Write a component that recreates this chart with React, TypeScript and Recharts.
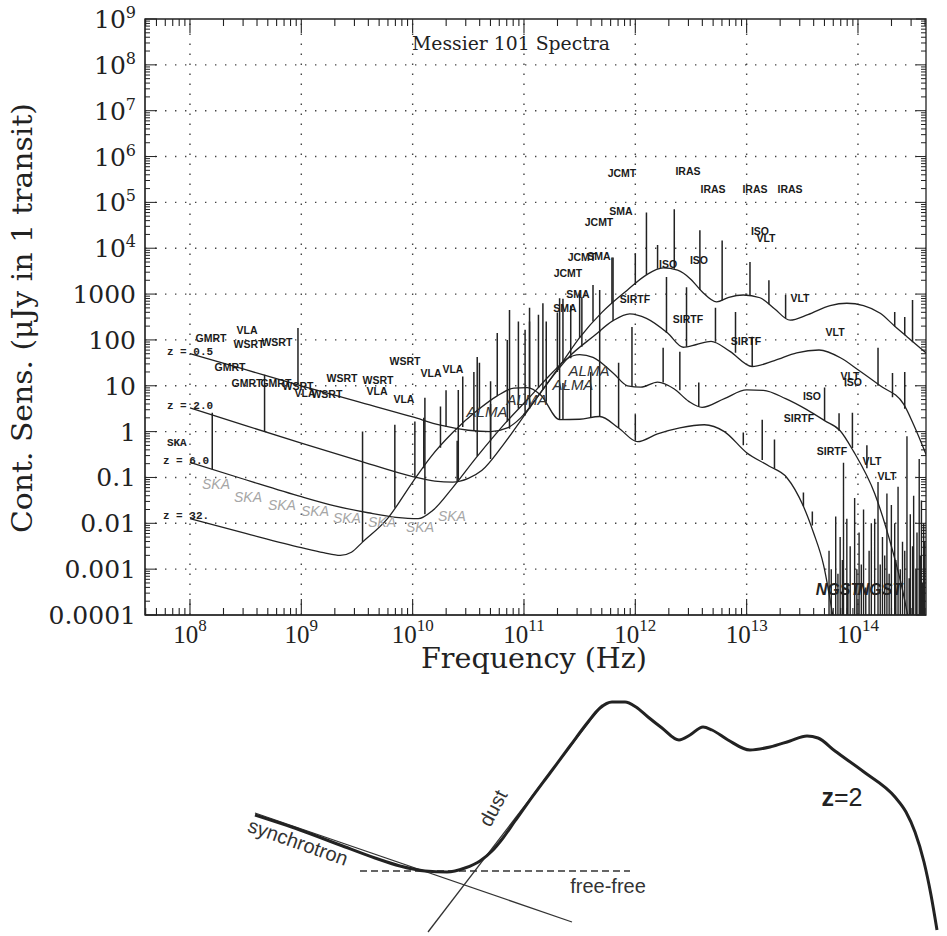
import React from 'react';
import { ComposedChart, Line, Scatter, XAxis, YAxis, ReferenceLine, ReferenceArea } from 'recharts';

// all values are log10(frequency / Hz) and log10(sensitivity / uJy)
const z05Curve: [number, number][] = [
  [8.0, 1.7], [8.5, 1.35], [9.0, 1.0], [9.5, 0.66], [10.0, 0.32], [10.25, 0.14], [10.5, 0.03], [10.7, 0.0],
  [10.85, 0.08], [10.97, 0.3], [11.11, 0.72], [11.34, 1.5], [11.5, 2.05], [11.7, 2.6], [11.93, 3.09], [12.1, 3.42],
  [12.25, 3.57], [12.38, 3.52], [12.5, 3.32], [12.6, 3.05], [12.73, 2.83], [12.84, 2.93], [12.97, 2.98], [13.12, 2.92],
  [13.25, 2.68], [13.39, 2.43], [13.55, 2.55], [13.75, 2.75], [13.9, 2.8], [14.05, 2.75], [14.2, 2.58], [14.33, 2.3],
  [14.44, 2.07], [14.62, 1.7],
];
const z2Curve: [number, number][] = [
  [8.0, 0.52], [8.5, 0.13], [9.0, -0.25], [9.5, -0.62], [10.0, -0.98], [10.2, -1.08], [10.36, -1.1], [10.5, -1.02],
  [10.62, -0.85], [10.81, -0.3], [11.04, 0.48], [11.2, 1.02], [11.4, 1.62], [11.63, 2.09], [11.8, 2.42], [11.95, 2.57],
  [12.1, 2.47], [12.29, 2.15], [12.43, 1.84], [12.55, 1.9], [12.68, 1.97], [12.85, 1.75], [13.05, 1.42], [13.25, 1.55],
  [13.45, 1.72], [13.65, 1.78], [13.85, 1.6], [14.0, 1.35], [14.2, 1.0], [14.41, 0.6], [14.5, 0.15], [14.62, -0.55],
];
const z6Curve: [number, number][] = [
  [8.0, -0.67], [8.5, -1.05], [9.0, -1.42], [9.3, -1.62], [9.6, -1.77], [9.85, -1.87], [10.05, -1.9], [10.18, -1.72],
  [10.36, -1.22], [10.58, -0.54], [10.83, 0.18], [11.05, 0.75], [11.26, 1.3], [11.38, 1.58], [11.5, 1.68], [11.62, 1.62],
  [11.8, 1.28], [11.93, 1.0], [12.05, 0.97], [12.2, 1.08], [12.35, 0.93], [12.48, 0.66], [12.6, 0.53], [12.8, 0.72],
  [13.0, 0.91], [13.15, 0.9], [13.35, 0.72], [13.54, 0.48], [13.7, 0.24], [13.84, 0.02], [13.96, -0.43], [14.15, -1.35],
  [14.3, -2.5], [14.4, -3.45], [14.47, -4.3],
];
const z32Curve: [number, number][] = [
  [8.0, -1.9], [8.5, -2.22], [9.0, -2.53], [9.2, -2.64], [9.35, -2.7], [9.45, -2.63], [9.55, -2.41], [9.77, -1.91],
  [10.0, -1.1], [10.16, -0.56], [10.36, -0.02], [10.59, 0.48], [10.76, 0.78], [10.91, 0.95], [11.03, 0.96], [11.15, 0.8],
  [11.32, 0.26], [11.5, 0.27], [11.68, 0.33], [11.85, 0.08], [12.02, -0.22], [12.2, -0.05], [12.4, 0.08], [12.62, 0.15],
  [12.8, 0.0], [13.0, -0.46], [13.2, -0.75], [13.36, -1.0], [13.51, -1.63], [13.6, -2.2], [13.69, -2.9], [13.78, -4.1],
];

// spectral lines: [log nu, base, tip]
const z05Lines: [number, number, number][] = [
  [8.97, 1.02, 2.26], [10.3, 0.1, 0.9], [10.55, 0.03, 1.3], [10.87, 0.06, 2.65], [11.05, 0.5, 2.4], [11.17, 0.92, 2.8],
  [11.35, 1.5, 2.9], [11.5, 2.05, 3.02], [11.62, 2.4, 3.2], [11.79, 2.8, 3.8], [12.0, 3.2, 3.89], [12.1, 3.42, 4.78],
  [12.2, 3.55, 4.07], [12.35, 3.55, 4.85], [12.58, 3.09, 4.39], [12.78, 2.86, 4.17], [13.03, 2.97, 3.7], [13.2, 2.78, 3.3],
  [13.35, 2.48, 2.98], [14.33, 2.3, 2.61], [14.42, 2.1, 2.5], [14.49, 1.95, 2.87],
];
const z2Lines: [number, number, number][] = [
  [8.67, 0.0, 1.24], [10.02, -0.99, 0.22], [10.4, -1.08, -0.2], [10.7, -0.6, 0.6], [11.01, 0.35, 2.22], [11.3, 1.3, 2.6],
  [11.52, 1.85, 2.93], [11.68, 2.18, 3.09], [11.8, 2.42, 3.8], [12.28, 2.15, 3.37], [12.46, 1.85, 3.15], [12.72, 1.96, 2.7],
  [12.9, 1.72, 2.61], [13.05, 1.42, 2.07], [14.18, 1.0, 1.83], [14.31, 0.75, 1.28], [14.42, 0.5, 1.3],
];
const z6Lines: [number, number, number][] = [
  [8.2, -0.82, 0.41], [10.11, -1.8, 0.74], [10.41, -1.05, 0.91], [10.58, -0.54, 1.63], [10.7, -0.2, 1.1], [10.85, 0.22, 2.0],
  [10.95, 0.5, 2.4], [11.13, 0.95, 2.55], [11.42, 1.6, 2.75], [11.97, 0.98, 2.28], [12.25, 1.07, 1.83], [12.4, 0.9, 1.74],
  [12.57, 0.54, 1.07], [13.7, 0.24, 0.96], [13.83, 0.02, 0.4], [13.95, -0.36, 0.41], [14.08, -0.8, -0.3],
];
const z32Lines: [number, number, number][] = [
  [9.55, -2.41, 0.0], [9.84, -1.66, 0.15], [10.1, -0.8, 0.3], [10.25, -0.35, 0.55], [10.45, 0.1, 1.2], [10.6, 0.5, 1.5],
  [10.76, 0.78, 2.15], [11.05, 0.95, 2.7], [11.2, 0.65, 2.4], [11.32, 0.26, 2.91], [11.35, 0.26, 1.06], [11.6, 0.3, 1.3],
  [11.68, 0.33, 2.2], [11.85, 0.08, 1.5], [12.0, -0.2, 0.37], [12.97, -0.3, -0.02], [13.14, -0.62, 0.26], [13.25, -0.8, -0.17],
  [13.51, -1.63, -1.33], [13.59, -2.05, -1.74],
];
// lines rising from below the frame in the infrared: [log nu, tip]
const irNoise: [number, number][] = [
  [13.74, -2.6], [13.76, -3.0], [13.8, -1.85], [13.82, -3.1], [13.84, -2.3], [13.86, -2.8], [13.87, -0.68], [13.9, -1.9],
  [13.91, -3.3], [13.93, -2.5], [13.97, -1.45], [13.99, -3.0], [14.01, -2.2], [14.03, -2.9], [14.05, -1.7], [14.07, -3.4],
  [14.1, -2.6], [14.12, -2.0], [14.15, -1.9], [14.18, -1.1], [14.2, -2.9], [14.22, -2.3], [14.24, -2.7], [14.26, -1.35],
  [14.28, -3.1], [14.3, -1.6], [14.33, -2.0], [14.34, -2.8], [14.36, -1.2], [14.38, -3.0], [14.4, -2.4], [14.42, -2.6],
  [14.44, -0.1], [14.46, -3.2], [14.47, -1.8], [14.49, -2.5], [14.5, -1.4], [14.52, -3.0], [14.53, -2.2], [14.55, -0.6],
  [14.56, -2.7], [14.57, -1.5], [14.58, -3.3], [14.59, -2.0], [14.6, -2.4],
];

// [text, log nu, log S]
const zLabels: [string, number, number][] = [
  ['z = 0.5', 7.793, 1.73], ['z = 2.0', 7.793, 0.56], ['SKA', 7.793, -0.25], ['z = 6.0', 7.757, -0.64], ['z = 32.', 7.757, -1.84],
];
const instrumentLabels: [string, number, number][] = [
  ['GMRT', 8.189, 2.04], ['VLA', 8.512, 2.22], ['WSRT', 8.53, 1.91], ['WSRT', 8.781, 1.95], ['GMRT', 8.359, 1.41],
  ['GMRT', 8.512, 1.06], ['GMRT', 8.772, 1.06], ['WSRT', 8.97, 1.0], ['VLA', 9.033, 0.84], ['WSRT', 9.23, 0.82],
  ['WSRT', 9.365, 1.17], ['WSRT', 9.689, 1.13], ['VLA', 9.68, 0.89], ['VLA', 9.922, 0.71], ['WSRT', 9.931, 1.54],
  ['VLA', 10.165, 1.28], ['VLA', 10.362, 1.37],
  ['JCMT', 11.88, 5.64], ['IRAS', 12.473, 5.68], ['IRAS', 12.698, 5.29], ['IRAS', 13.075, 5.29], ['IRAS', 13.39, 5.29],
  ['SMA', 11.871, 4.81], ['JCMT', 11.674, 4.57], ['ISO', 13.12, 4.37], ['VLT', 13.174, 4.22], ['JCMT', 11.521, 3.81],
  ['SMA', 11.674, 3.83], ['JCMT', 11.395, 3.46], ['ISO', 12.294, 3.66], ['ISO', 12.572, 3.74], ['SMA', 11.485, 3.0],
  ['SIRTF', 11.997, 2.89], ['SMA', 11.368, 2.7], ['VLT', 13.479, 2.91], ['SIRTF', 12.473, 2.46], ['VLT', 13.794, 2.17],
  ['SIRTF', 12.994, 1.98], ['VLT', 13.928, 1.21], ['ISO', 13.955, 1.08], ['ISO', 13.587, 0.78], ['SIRTF', 13.47, 0.3],
  ['SIRTF', 13.767, -0.42], ['VLT', 14.126, -0.64], ['VLT', 14.26, -0.97],
];
const skaLabels: [string, number, number][] = [
  ['SKA', 8.234, -1.14], ['SKA', 8.521, -1.43], ['SKA', 8.826, -1.6], ['SKA', 9.123, -1.73], ['SKA', 9.41, -1.88],
  ['SKA', 9.725, -1.97], ['SKA', 10.066, -2.08], ['SKA', 10.353, -1.84],
];
const almaLabels: [string, number, number][] = [
  ['ALMA', 10.668, 0.43], ['ALMA', 11.027, 0.69], ['ALMA', 11.44, 1.02], ['ALMA', 11.584, 1.34],
];
const ngstLabels: [string, number, number][] = [['NGST', 13.82, -3.45], ['NGST', 14.198, -3.45]];

const xDecades = [8, 9, 10, 11, 12, 13, 14];
const yDecades = [-4, -3, -2, -1, 0, 1, 2, 3, 4, 5, 6, 7, 8, 9];
const yDecimalText: Record<string, string> = {
  '-4': '0.0001', '-3': '0.001', '-2': '0.01', '-1': '0.1', '0': '1', '1': '10', '2': '100', '3': '1000',
};

// lower schematic: x = horizontal position, y = height above the bottom of the panel
const z2Sketch: [number, number][] = [
  [255, 121], [300, 106], [340, 91], [375, 78], [400, 70], [425, 65], [447, 64], [465, 68], [480, 75], [492, 85],
  [503, 98], [515, 115], [530, 136], [550, 163], [570, 190], [588, 214], [600, 228], [612, 234], [625, 234], [636, 229],
  [648, 219], [662, 208], [679, 196], [690, 201], [703, 209], [712, 206], [728, 196], [750, 186], [770, 189], [790, 195],
  [807, 200], [818, 198], [835, 185], [864, 164], [895, 139], [906, 124], [915, 104], [924, 74], [931, 41], [937, 6],
];
const synchrotronLine: [number, number][] = [[255, 123], [572, 14]];
const dustLine: [number, number][] = [[428, 4], [602, 231]];
const freeFreeLine: [number, number][] = [[360, 65], [630, 65]];
const sketchLabels: { text: string; x: number; y: number; rot: number }[] = [
  { text: 'synchrotron', x: 298, y: 94, rot: 19.5 },
  { text: 'dust', x: 493, y: 128, rot: -62 },
  { text: 'free-free', x: 608, y: 50, rot: 0 },
  { text: 'z=2', x: 842, y: 139, rot: 0 },
];

const X_MIN = 7.596;
const X_MAX = 14.611;
const PLOT_TOP = 19;
const PLOT_BOTTOM = 615;
const PLOT_LEFT = 145;
const PLOT_RIGHT = 926;
const INK = '#222';

const minorSteps = [2, 3, 4, 5, 6, 7, 8, 9];
const xMinor = [7, 8, 9, 10, 11, 12, 13, 14]
  .flatMap((n) => minorSteps.map((k) => n + Math.log10(k)))
  .filter((v) => v > X_MIN && v < X_MAX);
const yMinor = yDecades.slice(0, -1).flatMap((n) => minorSteps.map((k) => n + Math.log10(k)));
const xTicks = [...xDecades, ...xMinor].sort((a, b) => a - b);
const yTicks = [...yDecades, ...yMinor].sort((a, b) => a - b);

const isMajor = (v: number) => Math.abs(v - Math.round(v)) < 1e-6;
const toPoints = (c: [number, number][]) => c.map(([x, y]) => ({ x, y }));
const toSpikes = (s: [number, number, number][]) =>
  s.flatMap(([x, b, t]) => [{ x, y: b }, { x, y: t }, { x, y: null as number | null }]);
const noiseSpikes = irNoise.flatMap(([x, t]) => [{ x, y: -4.5 }, { x, y: t }, { x, y: null as number | null }]);
const toLabels = (l: [string, number, number][], kind: string) => l.map(([text, x, y]) => ({ x, y, text, kind }));

const labelStyle: Record<string, any> = {
  z: { fontFamily: 'Liberation Mono', fontSize: 11, fontWeight: 'bold', fill: INK, textAnchor: 'start' },
  inst: { fontFamily: 'Liberation Sans', fontSize: 10.5, fontWeight: 'bold', fill: '#1a1a1a', textAnchor: 'middle' },
  ska: { fontFamily: 'Liberation Sans', fontSize: 14, fontStyle: 'italic', fill: '#a6a6a6', textAnchor: 'middle' },
  alma: { fontFamily: 'Liberation Sans', fontSize: 15, fontStyle: 'italic', fill: '#333', textAnchor: 'middle' },
  ngst: { fontFamily: 'Liberation Sans', fontSize: 16, fontStyle: 'italic', fontWeight: 'bold', fill: INK, textAnchor: 'middle' },
};

const LabelShape = (p: any) => {
  const d = p.payload;
  const { textAnchor, ...rest } = labelStyle[d.kind];
  return (
    <text x={p.cx} y={p.cy} textAnchor={textAnchor} dominantBaseline="central" {...rest}>
      {d.text}
    </text>
  );
};

const XTick = (p: any) => {
  const { x, payload } = p;
  const v = payload.value;
  const major = isMajor(v);
  return (
    <g>
      <line x1={x} y1={PLOT_BOTTOM} x2={x} y2={PLOT_BOTTOM - (major ? 16 : 7)} stroke={INK} strokeWidth={1.1} />
      <line x1={x} y1={PLOT_TOP} x2={x} y2={PLOT_TOP + (major ? 14 : 7)} stroke={INK} strokeWidth={1.1} />
      {major && (
        <text x={x} y={PLOT_BOTTOM + 28} textAnchor="middle" fontFamily="Liberation Serif" fontSize={25} fill={INK}>
          <tspan>10</tspan>
          <tspan dy={-12} fontSize={17}>{Math.round(v)}</tspan>
        </text>
      )}
    </g>
  );
};

const YTick = (p: any) => {
  const { y, payload } = p;
  const v = payload.value;
  const major = isMajor(v);
  const n = Math.round(v);
  const dec = yDecimalText[String(n)];
  return (
    <g>
      <line x1={PLOT_LEFT} y1={y} x2={PLOT_LEFT + (major ? 12 : 5)} y2={y} stroke={INK} strokeWidth={1} />
      <line x1={PLOT_RIGHT} y1={y} x2={PLOT_RIGHT - (major ? 10 : 5)} y2={y} stroke={INK} strokeWidth={1} />
      {major && (
        <text x={PLOT_LEFT - 9} y={y + 9} textAnchor="end" fontFamily="DejaVu Serif" fontSize={25} fill={INK}>
          {dec ? (
            dec
          ) : (
            <>
              <tspan>10</tspan>
              <tspan dy={-10} fontSize={16}>{n}</tspan>
            </>
          )}
        </text>
      )}
    </g>
  );
};

const SketchLabel = (p: any) => {
  const d = p.payload;
  if (d.text === 'z=2') {
    return (
      <text x={p.cx} y={p.cy} textAnchor="middle" dominantBaseline="central" fontFamily="Liberation Sans" fontSize={25} fill={INK}>
        <tspan fontWeight="bold">z</tspan>
        <tspan>=2</tspan>
      </text>
    );
  }
  return (
    <text
      x={p.cx}
      y={p.cy}
      textAnchor="middle"
      dominantBaseline="central"
      fontFamily="Liberation Sans"
      fontSize={20}
      fill="#333"
      transform={`rotate(${d.rot} ${p.cx} ${p.cy})`}
    >
      {d.text}
    </text>
  );
};

const curves = [z05Curve, z2Curve, z6Curve, z32Curve];
const spikeSets = [z05Lines, z2Lines, z6Lines, z32Lines];

export default function App() {
  const labels = [
    ...toLabels(zLabels, 'z'),
    ...toLabels(instrumentLabels, 'inst'),
    ...toLabels(skaLabels, 'ska'),
    ...toLabels(almaLabels, 'alma'),
    ...toLabels(ngstLabels, 'ngst'),
  ];
  return (
    <div style={{ position: 'absolute', left: 0, top: 0, width: 947, height: 936, background: '#fff' }}>
      <ComposedChart width={947} height={680} margin={{ top: PLOT_TOP, right: 947 - PLOT_RIGHT, left: 45, bottom: 20 }}>
        <XAxis
          type="number"
          dataKey="x"
          domain={[X_MIN, X_MAX]}
          allowDataOverflow
          ticks={xTicks}
          interval={0}
          tickSize={0}
          tickMargin={0}
          tick={<XTick />}
          height={45}
          axisLine={{ stroke: INK }}
        />
        <YAxis
          type="number"
          dataKey="y"
          domain={[-4, 9]}
          allowDataOverflow
          ticks={yTicks}
          interval={0}
          tickSize={0}
          tickMargin={0}
          tick={<YTick />}
          width={100}
          axisLine={{ stroke: INK }}
        />
        {xDecades.map((d) => (
          <ReferenceLine key={'gx' + d} x={d} stroke="#444" strokeWidth={1.4} strokeDasharray="1.4 8.6" />
        ))}
        {yDecades.slice(1, -1).map((d) => (
          <ReferenceLine key={'gy' + d} y={d} stroke="#444" strokeWidth={1.4} strokeDasharray="1.4 8.6" />
        ))}
        <ReferenceArea x1={X_MIN} x2={X_MAX} y1={-4} y2={9} fill="none" stroke={INK} strokeWidth={1.3} ifOverflow="visible" />
        {curves.map((c, i) => (
          <Line
            key={'c' + i}
            data={toPoints(c)}
            dataKey="y"
            type="monotone"
            stroke={INK}
            strokeWidth={1.3}
            dot={false}
            isAnimationActive={false}
          />
        ))}
        {spikeSets.map((s, i) => (
          <Line
            key={'s' + i}
            data={toSpikes(s)}
            dataKey="y"
            type="linear"
            stroke={INK}
            strokeWidth={1.5}
            dot={false}
            isAnimationActive={false}
          />
        ))}
        <Line data={noiseSpikes} dataKey="y" type="linear" stroke={INK} strokeWidth={1.4} dot={false} isAnimationActive={false} />
        <Scatter data={labels} shape={<LabelShape />} isAnimationActive={false} />
      </ComposedChart>
      <svg width={947} height={680} style={{ position: 'absolute', left: 0, top: 0, pointerEvents: 'none' }}>
        <text x={412} y={50} fontFamily="DejaVu Serif" fontSize={19} fill={INK} textLength={198} lengthAdjust="spacingAndGlyphs">
          Messier 101 Spectra
        </text>
        <text x={534} y={668} textAnchor="middle" fontFamily="DejaVu Serif" fontSize={27} fill={INK} textLength={226} lengthAdjust="spacingAndGlyphs">
          Frequency (Hz)
        </text>
        <text
          x={32}
          y={318}
          textAnchor="middle"
          fontFamily="DejaVu Serif"
          fontSize={27}
          fill={INK}
          transform="rotate(-90 32 318)"
          textLength={430}
          lengthAdjust="spacingAndGlyphs"
        >
          Cont. Sens. (μJy in 1 transit)
        </text>
      </svg>
      <div style={{ position: 'absolute', left: 0, top: 680 }}>
        <ComposedChart width={947} height={256} margin={{ top: 0, right: 0, left: 0, bottom: 0 }}>
          <XAxis type="number" dataKey="x" domain={[0, 947]} hide />
          <YAxis type="number" dataKey="y" domain={[0, 256]} hide />
          <Line data={toPoints(synchrotronLine)} dataKey="y" type="linear" stroke="#333" strokeWidth={1.3} dot={false} isAnimationActive={false} />
          <Line data={toPoints(dustLine)} dataKey="y" type="linear" stroke="#333" strokeWidth={1.3} dot={false} isAnimationActive={false} />
          <Line
            data={toPoints(freeFreeLine)}
            dataKey="y"
            type="linear"
            stroke="#333"
            strokeWidth={1.3}
            strokeDasharray="7 4"
            dot={false}
            isAnimationActive={false}
          />
          <Line data={toPoints(z2Sketch)} dataKey="y" type="monotone" stroke={INK} strokeWidth={3} dot={false} isAnimationActive={false} />
          <Scatter data={sketchLabels} shape={<SketchLabel />} isAnimationActive={false} />
        </ComposedChart>
      </div>
    </div>
  );
}
